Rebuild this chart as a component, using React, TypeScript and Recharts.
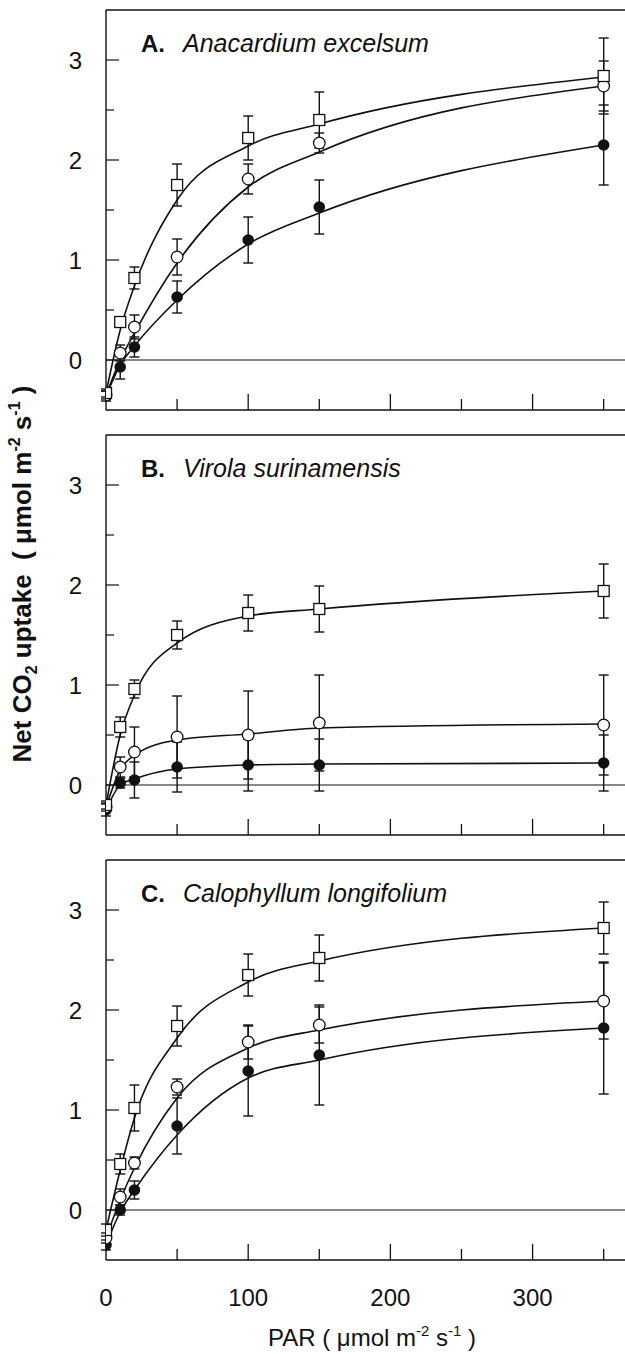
import React from "react";
import {
  ComposedChart,
  Line,
  Scatter,
  XAxis,
  YAxis,
  ErrorBar,
  ReferenceLine,
} from "recharts";

// PAR levels (µmol m-2 s-1)
const par = [0, 10, 20, 50, 100, 150, 350];

// A. Anacardium excelsum
const aSquare = [-0.33, 0.38, 0.82, 1.75, 2.22, 2.4, 2.84];
const aSquareErr = [0.04, 0.05, 0.11, 0.21, 0.22, 0.28, 0.38];
const aSquareFit = [-0.33, 0.3, 0.74, 1.6, 2.14, 2.36, 2.83];
const aOpen = [-0.35, 0.07, 0.33, 1.03, 1.81, 2.17, 2.74];
const aOpenErr = [0.04, 0.08, 0.12, 0.18, 0.15, 0.1, 0.25];
const aOpenFit = [-0.35, 0.0, 0.27, 0.97, 1.73, 2.08, 2.74];
const aFilled = [-0.36, -0.07, 0.13, 0.63, 1.2, 1.53, 2.15];
const aFilledErr = [0.05, 0.12, 0.1, 0.16, 0.23, 0.27, 0.4];
const aFilledFit = [-0.36, -0.05, 0.14, 0.6, 1.16, 1.47, 2.15];

// B. Virola surinamensis
const bSquare = [-0.2, 0.58, 0.96, 1.5, 1.72, 1.76, 1.94];
const bSquareErr = [0.04, 0.1, 0.09, 0.14, 0.18, 0.23, 0.27];
const bSquareFit = [-0.2, 0.5, 0.9, 1.42, 1.69, 1.76, 1.94];
const bOpen = [-0.22, 0.18, 0.33, 0.48, 0.5, 0.62, 0.6];
const bOpenErr = [0.04, 0.1, 0.25, 0.41, 0.44, 0.48, 0.5];
const bOpenFit = [-0.22, 0.15, 0.3, 0.45, 0.51, 0.57, 0.61];
const bFilled = [-0.25, 0.02, 0.05, 0.18, 0.2, 0.2, 0.22];
const bFilledErr = [0.06, 0.05, 0.18, 0.25, 0.26, 0.26, 0.28];
const bFilledFit = [-0.25, 0.0, 0.06, 0.16, 0.2, 0.21, 0.22];

// C. Calophyllum longifolium
const cSquare = [-0.2, 0.46, 1.02, 1.84, 2.35, 2.52, 2.82];
const cSquareErr = [0.06, 0.1, 0.23, 0.2, 0.21, 0.23, 0.26];
const cSquareFit = [-0.2, 0.4, 0.92, 1.72, 2.28, 2.49, 2.82];
const cOpen = [-0.28, 0.13, 0.47, 1.23, 1.68, 1.85, 2.09];
const cOpenErr = [0.05, 0.08, 0.06, 0.08, 0.17, 0.18, 0.38];
const cOpenFit = [-0.28, 0.1, 0.42, 1.12, 1.62, 1.8, 2.09];
const cFilled = [-0.35, 0.0, 0.2, 0.84, 1.39, 1.55, 1.82];
const cFilledErr = [0.05, 0.05, 0.09, 0.28, 0.45, 0.5, 0.66];
const cFilledFit = [-0.35, -0.02, 0.2, 0.75, 1.32, 1.5, 1.82];

const yTicks = [0, 0.5, 1, 1.5, 2, 2.5, 3];
const xTicks = [0, 50, 100, 150, 200, 250, 300, 350];

const FONT = "'Liberation Sans', Arial, Helvetica, sans-serif";
const INK = "#111";

const rows = (
  sq: number[], sqErr: number[], sqFit: number[],
  op: number[], opErr: number[], opFit: number[],
  fl: number[], flErr: number[], flFit: number[]
) =>
  par.map((p, i) => ({
    par: p,
    sq: sq[i], sqErr: sqErr[i], sqFit: sqFit[i],
    op: op[i], opErr: opErr[i], opFit: opFit[i],
    fl: fl[i], flErr: flErr[i], flFit: flFit[i],
  }));

const panels = [
  {
    letter: "A.",
    species: "Anacardium excelsum",
    data: rows(aSquare, aSquareErr, aSquareFit, aOpen, aOpenErr, aOpenFit, aFilled, aFilledErr, aFilledFit),
  },
  {
    letter: "B.",
    species: "Virola surinamensis",
    data: rows(bSquare, bSquareErr, bSquareFit, bOpen, bOpenErr, bOpenFit, bFilled, bFilledErr, bFilledFit),
  },
  {
    letter: "C.",
    species: "Calophyllum longifolium",
    data: rows(cSquare, cSquareErr, cSquareFit, cOpen, cOpenErr, cOpenFit, cFilled, cFilledErr, cFilledFit),
  },
];

const SquareDot = (p: any) => (
  <rect x={p.cx - 5.5} y={p.cy - 5.5} width={11} height={11} fill="#fff" stroke={INK} strokeWidth={1.3} />
);
const OpenDot = (p: any) => (
  <circle cx={p.cx} cy={p.cy} r={5.8} fill="#fff" stroke={INK} strokeWidth={1.3} />
);
const FilledDot = (p: any) => <circle cx={p.cx} cy={p.cy} r={5.8} fill={INK} />;

const YTick = (p: any) => {
  const v = p.payload.value;
  const major = Number.isInteger(v);
  return (
    <g>
      <line x1={p.x} x2={p.x + (major ? 13 : 8)} y1={p.y} y2={p.y} stroke={INK} strokeWidth={1.2} />
      {major && (
        <text x={p.x - 24} y={p.y} dy="0.36em" textAnchor="end" fontSize={24} fontFamily={FONT} fill={INK}>
          {v}
        </text>
      )}
    </g>
  );
};

const makeXTick = (labels: boolean) => (p: any) => {
  const v = p.payload.value;
  const major = v % 100 === 0;
  return (
    <g>
      {v > 0 && (
        <line x1={p.x} x2={p.x} y1={p.y} y2={p.y - (major ? 16 : 11)} stroke={INK} strokeWidth={1.3} />
      )}
      {labels && major && (
        <text x={p.x} y={p.y + 46} textAnchor="middle" fontSize={24} fontFamily={FONT} fill={INK}>
          {v}
        </text>
      )}
    </g>
  );
};

const PLOT_H = 400;
const STEP = 425;

function Panel({ index }: { index: number }) {
  const panel = panels[index];
  const last = index === panels.length - 1;
  const axisH = last ? 94 : 10;
  const top = index * STEP;
  return (
    <div style={{ position: "absolute", left: 0, top }}>
      <ComposedChart
        width={625}
        height={10 + PLOT_H + axisH}
        data={panel.data}
        margin={{ top: 10, right: 0, left: 46, bottom: 0 }}
      >
        <XAxis
          dataKey="par"
          type="number"
          domain={[0, 365]}
          ticks={xTicks}
          allowDataOverflow
          height={axisH}
          tickSize={0}
          tickMargin={0}
          tickLine={false}
          axisLine={{ stroke: INK, strokeWidth: 1.4 }}
          tick={makeXTick(last)}
          interval={0}
        />
        <YAxis
          type="number"
          domain={[-0.5, 3.5]}
          ticks={yTicks}
          allowDataOverflow
          width={60}
          tickSize={0}
          tickMargin={0}
          tickLine={false}
          axisLine={{ stroke: INK, strokeWidth: 1.4 }}
          tick={YTick}
          interval={0}
        />
        <ReferenceLine y={3.5} stroke={INK} strokeWidth={1.4} />
        <ReferenceLine y={0} stroke={INK} strokeWidth={1.2} />
        <Line dataKey="flFit" type="monotone" stroke={INK} strokeWidth={1.6} dot={false} isAnimationActive={false} />
        <Line dataKey="opFit" type="monotone" stroke={INK} strokeWidth={1.6} dot={false} isAnimationActive={false} />
        <Line dataKey="sqFit" type="monotone" stroke={INK} strokeWidth={1.6} dot={false} isAnimationActive={false} />
        <Scatter dataKey="fl" shape={FilledDot} isAnimationActive={false}>
          <ErrorBar dataKey="flErr" direction="y" width={5} stroke={INK} strokeWidth={1.4} />
        </Scatter>
        <Scatter dataKey="op" shape={OpenDot} isAnimationActive={false}>
          <ErrorBar dataKey="opErr" direction="y" width={5} stroke={INK} strokeWidth={1.4} />
        </Scatter>
        <Scatter dataKey="sq" shape={SquareDot} isAnimationActive={false}>
          <ErrorBar dataKey="sqErr" direction="y" width={5} stroke={INK} strokeWidth={1.4} />
        </Scatter>
      </ComposedChart>
    </div>
  );
}

export default function App() {
  return (
    <div
      style={{
        position: "absolute",
        left: 0,
        top: 0,
        width: 625,
        height: 1354,
        overflow: "hidden",
        background: "#fff",
        fontFamily: FONT,
      }}
    >
      {panels.map((_, i) => (
        <Panel key={i} index={i} />
      ))}
      <svg
        width={625}
        height={1354}
        style={{ position: "absolute", left: 0, top: 0, pointerEvents: "none" }}
      >
        {panels.map((p, i) => (
          <text key={p.letter} y={10 + i * STEP + 42} fontSize={24} fontFamily={FONT} fill={INK}>
            <tspan x={141} fontWeight="bold">{p.letter}</tspan>
            <tspan x={183} fontStyle="italic" fontSize={25}>{p.species}</tspan>
          </text>
        ))}
        <text
          transform="translate(31, 574) rotate(-90)"
          textAnchor="middle"
          fontSize={26}
          fontWeight="bold"
          fontFamily={FONT}
          fill={INK}
          style={{ whiteSpace: "pre" }}
        >
          Net CO
          <tspan dy={6} fontSize={16}>2</tspan>
          <tspan dy={-6}>{" uptake  ( μmol m"}</tspan>
          <tspan dy={-11} fontSize={16}>-2</tspan>
          <tspan dy={11}>{" s"}</tspan>
          <tspan dy={-11} fontSize={16}>-1</tspan>
          <tspan dy={11}>{" )"}</tspan>
        </text>
        <text
          x={372}
          y={1346}
          textAnchor="middle"
          fontSize={24}
          fontFamily={FONT}
          fill={INK}
          style={{ whiteSpace: "pre" }}
        >
          {"PAR ( μmol m"}
          <tspan dy={-10} fontSize={15}>-2</tspan>
          <tspan dy={10}>{" s"}</tspan>
          <tspan dy={-10} fontSize={15}>-1</tspan>
          <tspan dy={10}>{" )"}</tspan>
        </text>
      </svg>
    </div>
  );
}
